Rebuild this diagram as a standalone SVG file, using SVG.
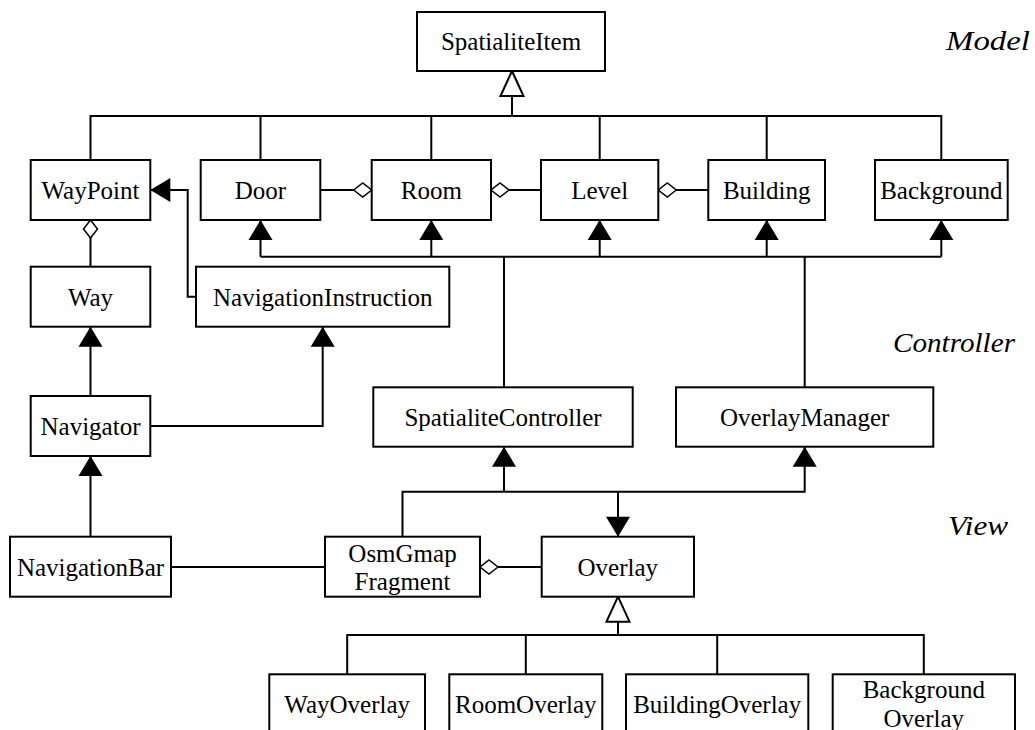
<svg xmlns="http://www.w3.org/2000/svg" width="1035" height="730" viewBox="0 0 1035 730">
<style>
.box{fill:#fff;stroke:#000;stroke-width:2}
.lbl{font-family:'Liberation Serif','DejaVu Serif',serif;font-size:25px;fill:#000;text-anchor:middle}
.layer{font-family:'Liberation Serif','DejaVu Serif',serif;font-size:28px;font-style:italic;fill:#000;text-anchor:end}
.c{fill:none;stroke:#000;stroke-width:2}
.arr{marker-end:url(#arrow)}
.gen{marker-end:url(#gen)}
.agg{marker-end:url(#dia)}
</style>
<defs>
<marker id="arrow" markerUnits="userSpaceOnUse" orient="auto" markerWidth="22" markerHeight="26" viewBox="0 -13 22 26" refX="20" refY="0" overflow="visible">
<path d="M0,-12 L20,0 L0,12 z" fill="#000"/>
</marker>
<marker id="gen" markerUnits="userSpaceOnUse" orient="auto" markerWidth="28" markerHeight="28" viewBox="-1 -14 28 28" refX="25" refY="0" overflow="visible">
<path d="M0,-11.5 L25,0 L0,11.5 z" fill="#fff" stroke="#000" stroke-width="2"/>
</marker>
<marker id="dia" markerUnits="userSpaceOnUse" orient="auto" markerWidth="20" markerHeight="18" viewBox="-1 -9 20 18" refX="18" refY="0" overflow="visible">
<path d="M0,0 L9,-7 L18,0 L9,7 z" fill="#fff" stroke="#000" stroke-width="1.5"/>
</marker>
</defs>
<g id="connectors">
<path class="c" d="M90.5,160 V116 H941.3 V160 M260.5,160 V116 M431.3,160 V116 M599.7,160 V116 M766.7,160 V116"/>
<path class="c gen" d="M512,116 V71"/>
<path class="c agg" d="M320.3,190 H371.7"/>
<path class="c agg" d="M541,190 H491"/>
<path class="c agg" d="M708.3,190 H658.3"/>
<path class="c agg" d="M90.5,266.7 V220"/>
<path class="c agg" d="M541.7,567 H480"/>
<path class="c" d="M260.5,256.7 H941.3 M504,387.3 V256.7 M804.7,387.3 V256.7"/>
<path class="c arr" d="M260.5,256.7 V220"/>
<path class="c arr" d="M431.3,256.7 V220"/>
<path class="c arr" d="M599.7,256.7 V220"/>
<path class="c arr" d="M766.7,256.7 V220"/>
<path class="c arr" d="M941.3,256.7 V220"/>
<path class="c arr" d="M196,296.7 H187.7 V190 H150.3"/>
<path class="c arr" d="M90.5,396 V326.7"/>
<path class="c arr" d="M150.3,426 H322.7 V326.7"/>
<path class="c arr" d="M90.5,536.7 V456"/>
<path class="c" d="M171,567 H325"/>
<path class="c arr" d="M402.5,536.7 V491.7 H804.7 V446.7"/>
<path class="c arr" d="M504,491.7 V446.7"/>
<path class="c arr" d="M618,491.7 V536.7"/>
<path class="c" d="M347.2,674.3 V635 H923.8 V674.3 M525.8,674.3 V635 M717.2,674.3 V635"/>
<path class="c gen" d="M618,635 V596.7"/>
</g>
<g id="SpatialiteItem"><rect class="box" x="417" y="12" width="188" height="59"/><text class="lbl" x="511" y="50">SpatialiteItem</text></g>
<g id="WayPoint"><rect class="box" x="30.7" y="160" width="119.6" height="60"/><text class="lbl" x="90.5" y="199">WayPoint</text></g>
<g id="Door"><rect class="box" x="200.7" y="160" width="119.6" height="60"/><text class="lbl" x="260.5" y="199">Door</text></g>
<g id="Room"><rect class="box" x="371.7" y="160" width="119.3" height="60"/><text class="lbl" x="431.3" y="199">Room</text></g>
<g id="Level"><rect class="box" x="541" y="160" width="117.3" height="60"/><text class="lbl" x="599.7" y="199">Level</text></g>
<g id="Building"><rect class="box" x="708.3" y="160" width="116.7" height="60"/><text class="lbl" x="766.7" y="199">Building</text></g>
<g id="Background"><rect class="box" x="875" y="160" width="132.7" height="60"/><text class="lbl" x="941.3" y="199">Background</text></g>
<g id="Way"><rect class="box" x="30.7" y="266.7" width="119.6" height="60"/><text class="lbl" x="90.5" y="305.7">Way</text></g>
<g id="NavigationInstruction"><rect class="box" x="196" y="266.7" width="253.3" height="60"/><text class="lbl" x="322.7" y="305.7">NavigationInstruction</text></g>
<g id="Navigator"><rect class="box" x="30.7" y="396" width="119.6" height="60"/><text class="lbl" x="90.5" y="435">Navigator</text></g>
<g id="SpatialiteController"><rect class="box" x="373.3" y="387.3" width="259.4" height="59.4"/><text class="lbl" x="503" y="426">SpatialiteController</text></g>
<g id="OverlayManager"><rect class="box" x="676" y="387.3" width="257.3" height="59.4"/><text class="lbl" x="804.7" y="426">OverlayManager</text></g>
<g id="NavigationBar"><rect class="box" x="10" y="536.7" width="161" height="60"/><text class="lbl" x="90.5" y="575.7">NavigationBar</text></g>
<g id="OsmGmapFragment"><rect class="box" x="325" y="536.7" width="155" height="60"/><text class="lbl" x="402.5" y="562">OsmGmap</text><text class="lbl" x="402.5" y="590">Fragment</text></g>
<g id="Overlay"><rect class="box" x="541.7" y="536.7" width="152.3" height="60"/><text class="lbl" x="617.8" y="575.7">Overlay</text></g>
<g id="WayOverlay"><rect class="box" x="269.3" y="674.3" width="155.7" height="60"/><text class="lbl" x="347.2" y="713.3">WayOverlay</text></g>
<g id="RoomOverlay"><rect class="box" x="449.3" y="674.3" width="153" height="60"/><text class="lbl" x="525.8" y="713.3">RoomOverlay</text></g>
<g id="BuildingOverlay"><rect class="box" x="626" y="674.3" width="182.3" height="60"/><text class="lbl" x="717.2" y="713.3">BuildingOverlay</text></g>
<g id="BackgroundOverlay"><rect class="box" x="832.7" y="674.3" width="182.3" height="60"/><text class="lbl" x="923.8" y="698">Background</text><text class="lbl" x="923.8" y="726.5">Overlay</text></g>
<g id="layers">
<text class="layer" x="1030" y="50" textLength="84" lengthAdjust="spacingAndGlyphs">Model</text>
<text class="layer" x="1015" y="352" textLength="122" lengthAdjust="spacingAndGlyphs">Controller</text>
<text class="layer" x="1008" y="535" textLength="60" lengthAdjust="spacingAndGlyphs">View</text>
</g>
</svg>
